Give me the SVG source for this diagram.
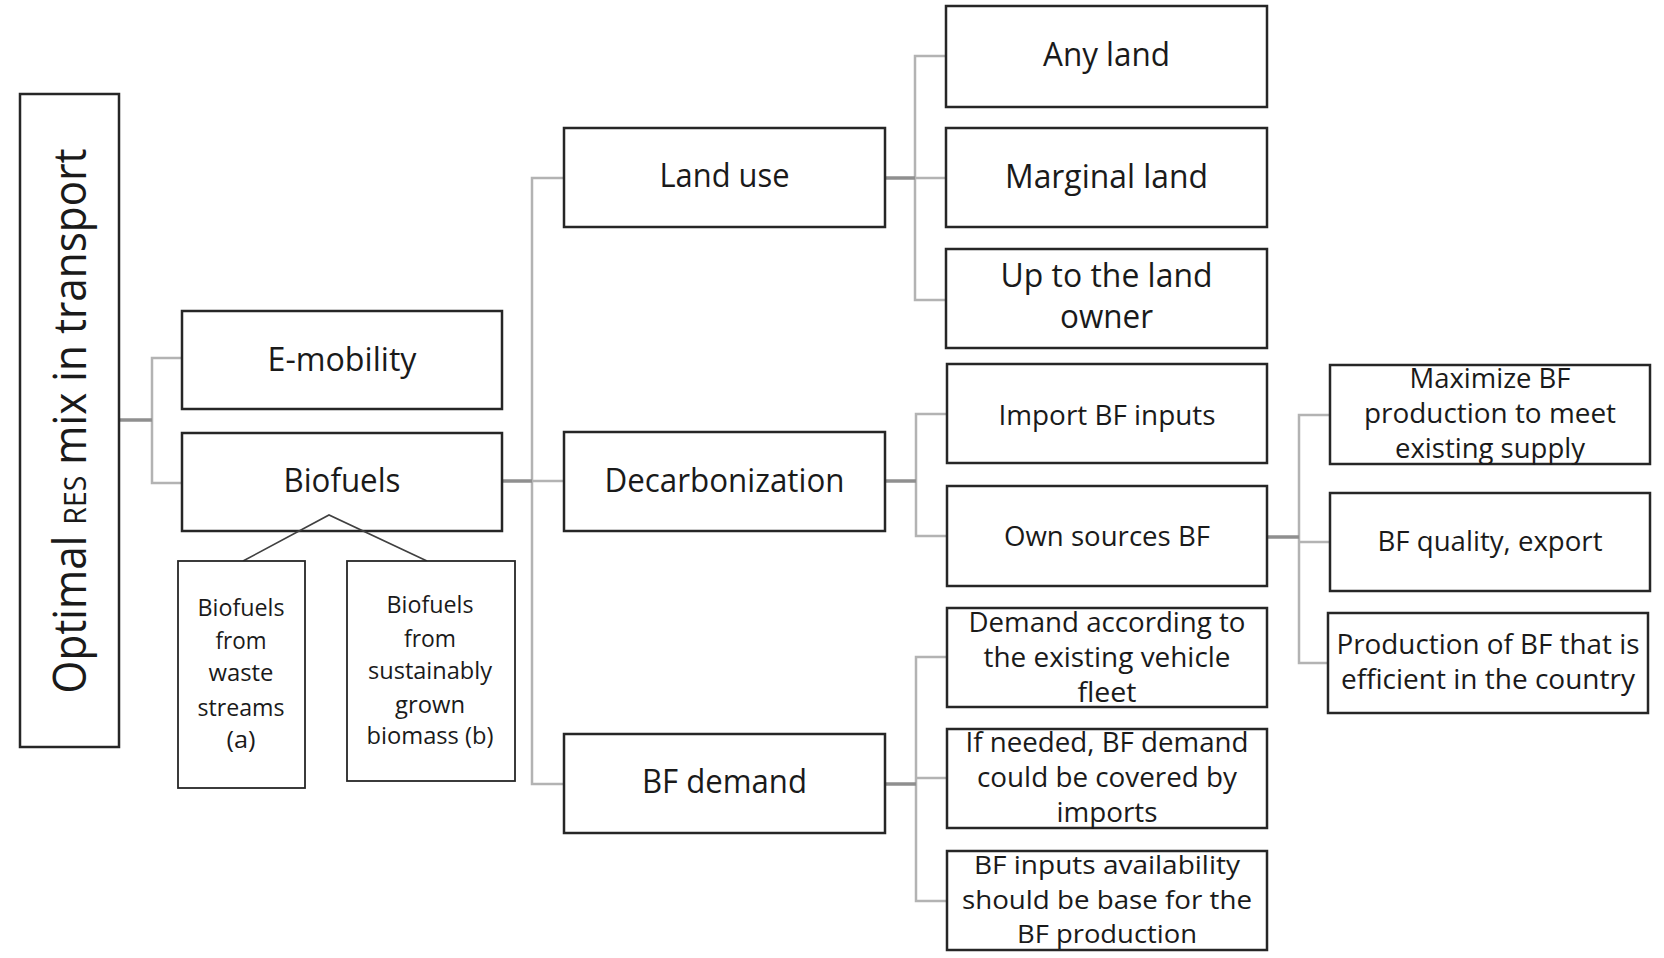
<svg xmlns="http://www.w3.org/2000/svg" width="1664" height="958" viewBox="0 0 1664 958">
<style>
.box{fill:#fff;stroke:#262626;stroke-width:2.5}
.sub{fill:#fff;stroke:#262626;stroke-width:1.8}
.t{font-family:"Open Sans","Noto Sans","Liberation Sans",sans-serif;fill:#1a1a1a;text-anchor:middle}
.l{font-size:33px}
.m{font-size:28px}
.s{font-size:27px}
.r{font-size:25.5px}
.x{font-size:24px}
.br{fill:none;stroke:#b3b3b3;stroke-width:2.5}
.st{fill:none;stroke:#8f8f8f;stroke-width:3.5}
.tri{fill:none;stroke:#404040;stroke-width:1.6}
</style>
<rect width="1664" height="958" fill="#fff"/>
<g id="connectors">
<path class="br" d="M182,358H152V483H182"/>
<path class="st" d="M119,420H152"/>
<path class="br" d="M564,178H532V784H564M532,481H564"/>
<path class="st" d="M502,481H532"/>
<path class="br" d="M946,56H915V300H946M915,178H946"/>
<path class="st" d="M885,178H915"/>
<path class="br" d="M947,414H916V536H947"/>
<path class="st" d="M885,481H916"/>
<path class="br" d="M947,657H916V901H947M916,778H947"/>
<path class="st" d="M885,784H916"/>
<path class="br" d="M1330,415H1299V663H1328M1299,542H1330"/>
<path class="st" d="M1267,537H1299"/>
</g>
<g id="root">
<rect class="box" x="20" y="94" width="99" height="653"/>
<text class="t" transform="rotate(-90 86 421)" x="86" y="421" font-size="46" textLength="545" lengthAdjust="spacingAndGlyphs">Optimal <tspan font-size="31">RES</tspan> mix in transport</text>
</g>
<g id="emobility">
<rect class="box" x="182" y="311" width="320" height="98"/>
<text class="t l" x="342" y="371" textLength="149" lengthAdjust="spacingAndGlyphs">E-mobility</text>
</g>
<g id="biofuels">
<rect class="box" x="182" y="433" width="320" height="98"/>
<text class="t l" x="342" y="492" textLength="117" lengthAdjust="spacingAndGlyphs">Biofuels</text>
</g>
<g id="bf-split">
<path class="tri" d="M243,561L329,515L427,561"/>
</g>
<g id="waste">
<rect class="sub" x="178" y="561" width="127" height="227"/>
<text class="t x" x="241" y="616" textLength="87" lengthAdjust="spacingAndGlyphs">Biofuels</text>
<text class="t x" x="241" y="649" textLength="51" lengthAdjust="spacingAndGlyphs">from</text>
<text class="t x" x="241" y="681" textLength="65" lengthAdjust="spacingAndGlyphs">waste</text>
<text class="t x" x="241" y="716" textLength="87" lengthAdjust="spacingAndGlyphs">streams</text>
<text class="t x" x="241" y="748" textLength="29" lengthAdjust="spacingAndGlyphs">(a)</text>
</g>
<g id="grown">
<rect class="sub" x="347" y="561" width="168" height="220"/>
<text class="t x" x="430" y="613" textLength="87" lengthAdjust="spacingAndGlyphs">Biofuels</text>
<text class="t x" x="430" y="647" textLength="52" lengthAdjust="spacingAndGlyphs">from</text>
<text class="t x" x="430" y="679" textLength="124" lengthAdjust="spacingAndGlyphs">sustainably</text>
<text class="t x" x="430" y="713" textLength="70" lengthAdjust="spacingAndGlyphs">grown</text>
<text class="t x" x="430" y="744" textLength="127" lengthAdjust="spacingAndGlyphs">biomass (b)</text>
</g>
<g id="landuse">
<rect class="box" x="564" y="128" width="321" height="99"/>
<text class="t l" x="724.5" y="187" textLength="130" lengthAdjust="spacingAndGlyphs">Land use</text>
</g>
<g id="decarbonization">
<rect class="box" x="564" y="432" width="321" height="99"/>
<text class="t l" x="724.5" y="492" textLength="240" lengthAdjust="spacingAndGlyphs">Decarbonization</text>
</g>
<g id="bfdemand">
<rect class="box" x="564" y="734" width="321" height="99"/>
<text class="t l" x="724.5" y="793" textLength="165" lengthAdjust="spacingAndGlyphs">BF demand</text>
</g>
<g id="anyland">
<rect class="box" x="946" y="6" width="321" height="101"/>
<text class="t l" x="1106.5" y="66" textLength="127" lengthAdjust="spacingAndGlyphs">Any land</text>
</g>
<g id="marginal">
<rect class="box" x="946" y="128" width="321" height="99"/>
<text class="t l" x="1106.5" y="188" textLength="203" lengthAdjust="spacingAndGlyphs">Marginal land</text>
</g>
<g id="owner">
<rect class="box" x="946" y="249" width="321" height="99"/>
<text class="t l" x="1106.5" y="287" textLength="212" lengthAdjust="spacingAndGlyphs">Up to the land</text>
<text class="t l" x="1106.5" y="328" textLength="93" lengthAdjust="spacingAndGlyphs">owner</text>
</g>
<g id="import">
<rect class="box" x="947" y="364" width="320" height="99"/>
<text class="t m" x="1107" y="425" textLength="217" lengthAdjust="spacingAndGlyphs">Import BF inputs</text>
</g>
<g id="ownsources">
<rect class="box" x="947" y="486" width="320" height="100"/>
<text class="t s" x="1107" y="546" textLength="206" lengthAdjust="spacingAndGlyphs">Own sources BF</text>
</g>
<g id="fleet">
<rect class="box" x="947" y="608" width="320" height="99"/>
<text class="t s" x="1107" y="632" textLength="277" lengthAdjust="spacingAndGlyphs">Demand according to</text>
<text class="t s" x="1107" y="667" textLength="247" lengthAdjust="spacingAndGlyphs">the existing vehicle</text>
<text class="t s" x="1107" y="702" textLength="59" lengthAdjust="spacingAndGlyphs">fleet</text>
</g>
<g id="imports">
<rect class="box" x="947" y="729" width="320" height="99"/>
<text class="t s" x="1107" y="752" textLength="283" lengthAdjust="spacingAndGlyphs">If needed, BF demand</text>
<text class="t s" x="1107" y="787" textLength="260" lengthAdjust="spacingAndGlyphs">could be covered by</text>
<text class="t s" x="1107" y="822" textLength="101" lengthAdjust="spacingAndGlyphs">imports</text>
</g>
<g id="availability">
<rect class="box" x="947" y="851" width="320" height="99"/>
<text class="t r" x="1107" y="874" textLength="266" lengthAdjust="spacingAndGlyphs">BF inputs availability</text>
<text class="t r" x="1107" y="909" textLength="290" lengthAdjust="spacingAndGlyphs">should be base for the</text>
<text class="t r" x="1107" y="943" textLength="180" lengthAdjust="spacingAndGlyphs">BF production</text>
</g>
<g id="maximize">
<rect class="box" x="1330" y="365" width="320" height="99"/>
<text class="t s" x="1490" y="388" textLength="161" lengthAdjust="spacingAndGlyphs">Maximize BF</text>
<text class="t s" x="1490" y="423" textLength="252" lengthAdjust="spacingAndGlyphs">production to meet</text>
<text class="t s" x="1490" y="458" textLength="190" lengthAdjust="spacingAndGlyphs">existing supply</text>
</g>
<g id="quality">
<rect class="box" x="1330" y="493" width="320" height="98"/>
<text class="t s" x="1490" y="551" textLength="225" lengthAdjust="spacingAndGlyphs">BF quality, export</text>
</g>
<g id="efficient">
<rect class="box" x="1328" y="613" width="320" height="100"/>
<text class="t s" x="1488" y="654" textLength="303" lengthAdjust="spacingAndGlyphs">Production of BF that is</text>
<text class="t s" x="1488" y="689" textLength="294" lengthAdjust="spacingAndGlyphs">efficient in the country</text>
</g>
</svg>
